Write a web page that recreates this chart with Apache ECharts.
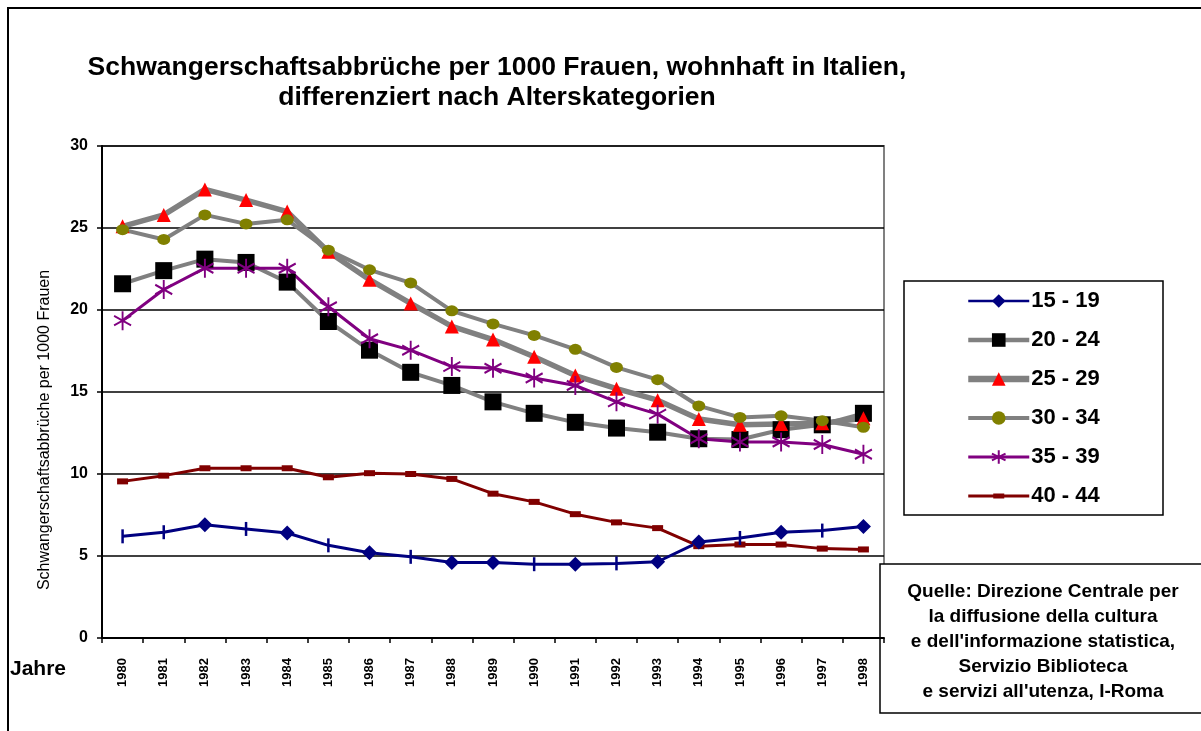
<!DOCTYPE html>
<html>
<head>
<meta charset="utf-8">
<script src="https://cdn.jsdelivr.net/npm/echarts@6/dist/echarts.min.js"></script>
<style>
  html, body { margin: 0; padding: 0; background: #fff; }
  #chart { width: 1201px; height: 731px; }
</style>
</head>
<body>
<div id="chart"></div>
<script>
  // Schwangerschaftsabbrüche per 1000 Frauen, Italien 1980-1998
  const years = ['1980', '1981', '1982', '1983', '1984', '1985', '1986', '1987', '1988', '1989',
    '1990', '1991', '1992', '1993', '1994', '1995', '1996', '1997', '1998']
  const yTicks = [0, 5, 10, 15, 20, 25, 30]
  const ages = ['15 - 19', '20 - 24', '25 - 29', '30 - 34', '35 - 39', '40 - 44']

  const a1519 = [6.2, 6.45, 6.9, 6.65, 6.4, 5.65, 5.2, 4.95, 4.6, 4.6, 4.5, 4.5, 4.55, 4.65, 5.85, 6.1, 6.45, 6.55, 6.8]
  const a2024 = [21.6, 22.4, 23.1, 22.9, 21.7, 19.3, 17.55, 16.2, 15.4, 14.4, 13.7, 13.15, 12.8, 12.55, 12.15, 12.1, 12.7, 13.0, 13.7]
  const a2529 = [25.1, 25.8, 27.35, 26.7, 26.0, 23.55, 21.85, 20.4, 19.0, 18.2, 17.15, 16.0, 15.2, 14.5, 13.35, 13.0, 13.05, 13.1, 13.4]
  const a3034 = [24.9, 24.3, 25.8, 25.25, 25.5, 23.65, 22.45, 21.65, 19.95, 19.15, 18.45, 17.6, 16.5, 15.75, 14.15, 13.45, 13.55, 13.25, 12.85]
  const a3539 = [19.35, 21.25, 22.55, 22.55, 22.55, 20.2, 18.25, 17.55, 16.55, 16.45, 15.85, 15.4, 14.4, 13.65, 12.15, 11.95, 11.95, 11.8, 11.2]
  const a4044 = [9.55, 9.9, 10.35, 10.35, 10.35, 9.8, 10.05, 10.0, 9.7, 8.8, 8.3, 7.55, 7.05, 6.7, 5.6, 5.7, 5.7, 5.45, 5.4]

  // Excel drew the 15-19 markers alternating between diamond and dash
  const teenMarks = ['|', '|', 'D', '|', 'D', '|', 'D', '|', 'D', 'D', '|', 'D', '|', 'D', 'D', '|', 'D', '|', 'D']

  const starPath = 'path://M0,-10L0,10M-8.66,-5L8.66,5M-8.66,5L8.66,-5'
  // legend icon for 40-44: thin line with a small dash in the middle
  const dashIcon = 'path://M0,1L61,1L61,4L0,4Z M25,0L36,0L36,5L25,5Z'
  const font = 'Liberation Sans, Arial, sans-serif'

  let elem = echarts.init(document.getElementById('chart'))

  let teenData = a1519.map((v, i) => {
    if (teenMarks[i] === 'D') return { value: v }
    return { value: v, symbol: 'rect', symbolSize: [2.5, 14] }
  })

  let option = {
    animation: false,
    textStyle: { fontFamily: font },
    grid: {
      left: 102,
      right: 317,
      top: 146,
      bottom: 93,
      show: true,
      borderColor: '#808080',
      borderWidth: 2
    },
    legend: {
      data: [
        { name: ages[0], lineStyle: { width: 2.7 } },
        { name: ages[1], lineStyle: { width: 4.3 } },
        { name: ages[2], lineStyle: { width: 6.5 } },
        { name: ages[3], lineStyle: { width: 4 } },
        { name: ages[4], lineStyle: { width: 3 } },
        { name: ages[5], icon: dashIcon }
      ],
      orient: 'vertical',
      left: 960,
      top: 284,
      itemWidth: 61,
      itemHeight: 17,
      itemGap: 15,
      textStyle: { fontSize: 22, fontWeight: 'bold', color: '#000', padding: [0, 0, 0, -3], lineHeight: 24 }
    },
    xAxis: {
      type: 'category',
      data: years,
      boundaryGap: true,
      axisLine: { lineStyle: { color: '#000', width: 2 } },
      axisTick: { show: true, length: 5, lineStyle: { color: '#000', width: 1.5 } },
      axisLabel: { rotate: 90, fontSize: 13, fontWeight: 'bold', color: '#000', margin: 20 }
    },
    yAxis: {
      type: 'value',
      min: yTicks[0],
      max: yTicks[yTicks.length - 1],
      interval: 5,
      name: 'Schwangerschaftsabbrüche per 1000 Frauen',
      nameLocation: 'middle',
      nameGap: 49,
      nameTextStyle: { fontSize: 16, color: '#000', padding: [0, 76, 0, 0] },
      axisLine: { show: true, lineStyle: { color: '#000', width: 2 } },
      axisTick: { show: true, length: 5, lineStyle: { color: '#000', width: 1.5 } },
      axisLabel: { fontSize: 16, fontWeight: 'bold', color: '#000', margin: 14 },
      splitLine: { lineStyle: { color: '#000', width: 1.5 } }
    },
    series: [
      {
        name: '40 - 44',
        type: 'line',
        data: a4044,
        symbol: 'rect',
        symbolSize: [11, 6],
        color: '#800000',
        lineStyle: { color: '#800000', width: 3 }
      },
      {
        name: '15 - 19',
        type: 'line',
        data: teenData,
        symbol: 'diamond',
        symbolSize: 15,
        color: '#000080',
        lineStyle: { color: '#000080', width: 3 }
      },
      {
        name: '20 - 24',
        type: 'line',
        data: a2024,
        symbol: 'rect',
        symbolSize: 17,
        color: '#000000',
        lineStyle: { color: '#808080', width: 4 }
      },
      {
        name: '25 - 29',
        type: 'line',
        data: a2529,
        symbol: 'triangle',
        symbolSize: 14,
        color: '#ff0000',
        lineStyle: { color: '#808080', width: 5.5 }
      },
      {
        name: '30 - 34',
        type: 'line',
        data: a3034,
        symbol: 'circle',
        symbolSize: [13, 11],
        color: '#808000',
        lineStyle: { color: '#808080', width: 4 }
      },
      {
        name: '35 - 39',
        type: 'line',
        data: a3539,
        symbol: starPath,
        symbolSize: [17, 19],
        color: '#800080',
        itemStyle: { color: 'none', borderColor: '#800080', borderWidth: 2 },
        lineStyle: { color: '#800080', width: 3 }
      }
    ],
    graphic: [
      {
        type: 'rect',
        shape: { x: 8, y: 8, width: 1200, height: 740 },
        style: { fill: 'none', stroke: '#000', lineWidth: 2 },
        silent: true
      },
      {
        type: 'text',
        x: 497,
        y: 53,
        style: {
          text: 'Schwangerschaftsabbrüche per 1000 Frauen, wohnhaft in Italien,\ndifferenziert nach Alterskategorien',
          fontSize: 26.5,
          fontWeight: 'bold',
          fill: '#000',
          align: 'center',
          lineHeight: 30,
          fontFamily: font
        }
      },
      {
        type: 'text',
        x: 10,
        y: 659,
        style: { text: 'Jahre', fontSize: 21, fontWeight: 'bold', fill: '#000', fontFamily: font }
      },
      {
        type: 'rect',
        shape: { x: 904, y: 281, width: 259, height: 234 },
        style: { fill: 'none', stroke: '#000', lineWidth: 1.5 },
        silent: true
      },
      {
        type: 'rect',
        shape: { x: 880, y: 564, width: 330, height: 149 },
        style: { fill: '#fff', stroke: '#000', lineWidth: 1.5 },
        silent: true
      },
      {
        type: 'text',
        x: 1043,
        y: 579,
        style: {
          text: 'Quelle: Direzione Centrale per\nla diffusione della cultura\ne dell\'informazione statistica,\nServizio Biblioteca\ne servizi all\'utenza, I-Roma',
          fontSize: 19,
          fontWeight: 'bold',
          fill: '#000',
          align: 'center',
          lineHeight: 25,
          fontFamily: font
        }
      }
    ]
  }
  elem.setOption(option)
</script>
</body>
</html>
